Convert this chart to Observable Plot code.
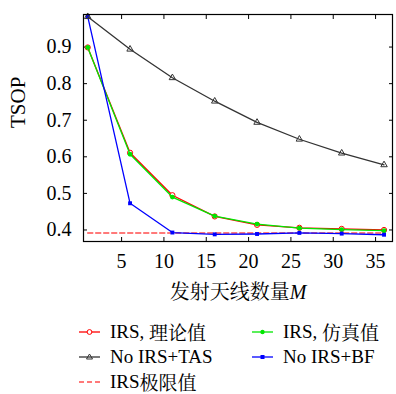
<!DOCTYPE html>
<html><head><meta charset="utf-8">
<script src="https://cdn.jsdelivr.net/npm/d3@7"></script>
<script src="https://cdn.jsdelivr.net/npm/@observablehq/plot@0.6"></script>
<style>
body{margin:0;background:#fff;}
#chart{position:relative;width:396px;height:394px;color:#000;}
#chart, #chart *{font-family:'Liberation Serif' !important;}
#chart .cjk, #chart .cjk *{font-family:'Noto Serif CJK SC' !important;}
.item{position:absolute;display:flex;align-items:center;font-size:19px;line-height:20px;white-space:nowrap;}
.item span{white-space:pre;}
</style></head><body><div id="chart"></div>
<script>
const M = [1, 6, 11, 16, 21, 26, 31, 36];
const irsTheory = [0.899, 0.611, 0.495, 0.437, 0.414, 0.406, 0.403, 0.400];
const irsSim    = [0.899, 0.607, 0.490, 0.438, 0.416, 0.405, 0.401, 0.398];
const noIrsTas  = [0.983, 0.894, 0.816, 0.752, 0.694, 0.648, 0.610, 0.578];
const noIrsBf   = [0.983, 0.473, 0.393, 0.388, 0.389, 0.392, 0.390, 0.387];
const irsLimit  = [0.392, 0.392];
const limitM    = [1, 36];
const xTicks = [5, 10, 15, 20, 25, 30, 35];
const yTicks = [0.4, 0.5, 0.6, 0.7, 0.8, 0.9];
const names = ["IRS, 理论值", "IRS, 仿真值", "No IRS+TAS", "No IRS+BF", "IRS极限值"];
const xLabel = "发射天线数量";
const xLabelVar = "M";
const yLabel = "TSOP";

const C = {red:"#ff0000", green:"#00e600", black:"#333333", blue:"#0000ff", limit:"#ff4d4d"};
const rows = ys => M.map((m, i) => ({M: m, v: ys[i]}));
const lim = limitM.map((m, i) => ({M: m, v: irsLimit[i]}));
const SERIF = "Liberation Serif", CJK = "Noto Serif CJK SC";

const plot = Plot.plot({
  width: 396, height: 312,
  marginLeft: 83, marginRight: 4, marginTop: 14, marginBottom: 71,
  style: {fontSize: "20px", color: "#000", background: "#fff", overflow: "visible"},
  x: {domain: [0.5, 37]},
  y: {domain: [0.3685, 0.989]},
  marks: [
    Plot.axisX({ticks: xTicks, tickSize: 0, tickPadding: 12, label: null, fontSize: 20}),
    Plot.axisY({ticks: yTicks, tickSize: 0, tickPadding: 12, label: null, fontSize: 20, tickFormat: d3.format(".1f")}),
    Plot.axisX({ticks: xTicks, tickSize: -4, tickFormat: () => "", label: null}),
    Plot.axisX({ticks: xTicks, anchor: "top", tickSize: -4, tickFormat: () => "", label: null}),
    Plot.axisY({ticks: yTicks, tickSize: -4, tickFormat: () => "", label: null}),
    Plot.axisY({ticks: yTicks, anchor: "right", tickSize: -4, tickFormat: () => "", label: null}),
    Plot.line(lim, {x: "M", y: "v", stroke: C.limit, strokeWidth: 1.5, strokeDasharray: "5,3"}),
    Plot.line(rows(irsTheory), {x: "M", y: "v", stroke: C.red, strokeWidth: 1.3}),
    Plot.dot(rows(irsTheory), {x: "M", y: "v", r: 2.6, stroke: C.red, fill: "#fff", strokeWidth: 1}),
    Plot.line(rows(irsSim), {x: "M", y: "v", stroke: C.green, strokeWidth: 1.3}),
    Plot.dot(rows(irsSim), {x: "M", y: "v", r: 2.4, fill: C.green}),
    Plot.line(rows(noIrsBf), {x: "M", y: "v", stroke: C.blue, strokeWidth: 1.3}),
    Plot.dot(rows(noIrsBf), {x: "M", y: "v", r: 2.2, symbol: "square", fill: C.blue}),
    Plot.line(rows(noIrsTas), {x: "M", y: "v", stroke: C.black, strokeWidth: 1.3}),
    Plot.dot(rows(noIrsTas), {x: "M", y: "v", r: 2.4, symbol: "triangle", stroke: C.black, fill: "none", strokeWidth: 1}),
    Plot.frame({stroke: "#000", strokeWidth: 1.2}),
    Plot.text([xLabel], {frameAnchor: "bottom", dy: 57, fontSize: 20, className: "xlab"}),
    Plot.text([yLabel], {frameAnchor: "left", dx: -65, rotate: -90, fontSize: 21})
  ]
});
const root = document.getElementById("chart");
root.appendChild(plot);
const imp = (el, fam) => { el.setAttribute("font-family", fam); el.style.setProperty("font-family", `'${fam}'`, "important"); };
imp(plot, SERIF);
plot.querySelectorAll("g, text").forEach(t => imp(t, SERIF));
const xl = plot.querySelector(".xlab text");
if (xl) {
  xl.textContent = "";
  const a = document.createElementNS("http://www.w3.org/2000/svg", "tspan");
  a.textContent = xLabel; a.setAttribute("class", "cjk"); imp(a, CJK);
  const b = document.createElementNS("http://www.w3.org/2000/svg", "tspan");
  b.textContent = xLabelVar; b.setAttribute("font-style", "italic"); imp(b, SERIF);
  xl.appendChild(a); xl.appendChild(b);
}

const sw = {
  0: `<line x1="0" y1="6" x2="21" y2="6" stroke="${C.red}" stroke-width="1.3"/><circle cx="10.5" cy="6" r="2.4" fill="#fff" stroke="${C.red}"/>`,
  1: `<line x1="0" y1="6" x2="21" y2="6" stroke="${C.green}" stroke-width="1.3"/><circle cx="10.5" cy="6" r="2.2" fill="${C.green}"/>`,
  2: `<line x1="0" y1="6" x2="21" y2="6" stroke="${C.black}" stroke-width="1.3"/><path d="M10.5,3 L13.5,8 L7.5,8 Z" fill="none" stroke="${C.black}"/>`,
  3: `<line x1="0" y1="6" x2="21" y2="6" stroke="${C.blue}" stroke-width="1.3"/><rect x="8.5" y="4" width="4" height="4" fill="${C.blue}"/>`,
  4: `<line x1="0" y1="6" x2="21" y2="6" stroke="${C.limit}" stroke-width="1.5" stroke-dasharray="5,3"/>`
};
const pos = [[79, 332], [252, 332], [79, 357], [252, 357], [79, 382]];
names.forEach((n, i) => {
  const d = document.createElement("div");
  d.className = "item";
  d.style.left = pos[i][0] + "px";
  d.style.top = (pos[i][1] - 10) + "px";
  const sv = document.createElement("span");
  sv.innerHTML = `<svg width="22" height="12">${sw[i]}</svg>`;
  sv.style.display = "inline-flex"; sv.style.marginRight = "9px";
  d.appendChild(sv);
  n.split(/([\u4e00-\u9fff]+)/).filter(s => s).forEach(part => {
    const s = document.createElement("span");
    s.textContent = part;
    const isCJK = /[\u4e00-\u9fff]/.test(part);
    if (isCJK) s.className = "cjk";
    imp(s, isCJK ? CJK : SERIF);
    d.appendChild(s);
  });
  root.appendChild(d);
});
</script>
</body></html>
